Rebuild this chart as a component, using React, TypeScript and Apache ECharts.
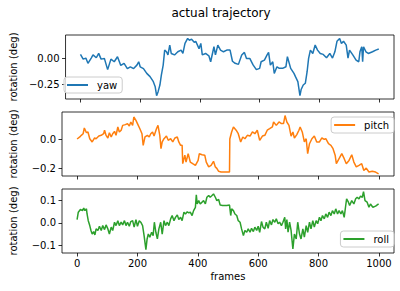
import React, { useEffect, useRef } from "react";
import * as echarts from "echarts";

const titleText = "actual trajectory";
const yLabel = "rotation (deg)";
const xLabel = "frames";
const xTicks = [0, 200, 400, 600, 800, 1000];

const yaw: [number, number][] = [
  [0, 0.035], [9, -0.01], [18, 0], [25, -0.05], [36, 0], [42, 0.03], [53, 0.003], [61, 0.045], [69, -0.01], [80, -0.003],
  [91, -0.11], [102, -0.01], [113, -0.035], [124, 0.013], [135, -0.07], [146, -0.05], [157, -0.1], [167, -0.083], [178, -0.1],
  [189, -0.067], [195, -0.035], [200, -0.083], [211, -0.1], [222, -0.146], [233, -0.177], [244, -0.225], [250, -0.27],
  [255, -0.358], [260, -0.32], [266, -0.257], [271, -0.16], [277, -0.067], [282, 0.076], [288, 0.06], [293, 0.03],
  [299, 0.124], [304, 0.044], [315, 0.03], [326, 0.06], [337, 0.076], [343, 0.044], [350, 0.14], [359, 0.187], [365, 0.17],
  [372, 0.18], [381, 0.15], [386, 0.16], [397, 0.09], [403, 0.14], [408, 0.03], [419, 0.044], [430, 0.022], [436, -0.035],
  [447, 0.108], [452, 0.03], [460, 0.124], [469, 0.076], [479, 0.06], [490, 0.076], [501, 0.076], [509, -0.03], [518, -0.05],
  [529, -0.06], [540, 0.03], [549, 0.054], [556, -0.003], [567, -0.003], [578, -0.065], [589, -0.11], [600, -0.098],
  [605, -0.035], [616, -0.019], [625, 0.03], [630, 0.054], [636, -0.067], [644, -0.035], [649, -0.146], [658, -0.083],
  [666, -0.098], [677, -0.098], [688, -0.083], [693, 0.013], [704, -0.098], [715, -0.146], [720, -0.177], [728, -0.225],
  [735, -0.358], [739, -0.3], [746, -0.257], [753, -0.24], [759, -0.13], [764, -0.003], [770, 0.076], [778, 0.044],
  [786, 0.124], [794, 0.076], [803, 0.044], [813, 0.035], [824, 0.003], [835, 0.044], [844, 0], [852, 0.06], [859, 0.16],
  [868, 0.187], [874, 0.14], [881, 0.16], [890, 0.124], [896, 0], [901, 0.076], [912, 0.03], [923, -0.019], [932, -0.035],
  [936, 0.06], [942, 0.108], [945, -0.035], [948, 0.108], [956, 0.06], [964, 0.044], [978, 0.06], [989, 0.076], [999, 0.086],
];

const pitch: [number, number][] = [
  [0, 0], [9, 0.014], [14, 0.025], [20, 0.036], [24, 0.075], [31, 0.043], [36, 0.048], [42, 0.002], [50, -0.02], [58, 0.007],
  [63, 0.002], [72, 0.02], [80, 0.025], [88, 0.036], [91, 0.06], [96, 0.025], [102, 0.007], [107, 0.043], [113, 0.014],
  [118, 0.036], [124, 0.052], [129, 0.025], [135, 0.082], [140, 0.048], [146, 0.06], [151, 0.093], [160, 0.098], [167, 0.105],
  [173, 0.089], [178, 0.116], [184, 0.093], [188, 0.15], [195, 0.127], [200, 0.105], [208, 0.07], [215, 0.036], [219, -0.043],
  [225, 0.014], [233, 0.025], [239, 0.014], [244, 0.036], [250, 0.048], [255, 0.02], [263, 0.07], [268, 0.093], [274, 0.025],
  [278, -0.066], [282, -0.02], [288, 0.002], [296, 0.02], [302, -0.009], [310, 0.002], [317, -0.02], [324, 0.007],
  [332, 0.014], [337, -0.02], [343, -0.043], [348, -0.043], [350, -0.168], [357, -0.11], [361, -0.157], [368, -0.1],
  [375, -0.157], [383, -0.168], [392, -0.18], [401, -0.146], [405, -0.1], [414, -0.107], [423, -0.11], [428, -0.157],
  [436, -0.19], [444, -0.18], [452, -0.152], [458, -0.19], [463, -0.2], [469, -0.22], [477, -0.225], [490, -0.225],
  [501, -0.225], [505, -0.225], [506, 0.0], [512, 0.048], [518, 0.082], [527, 0.06], [534, 0.036], [542, -0.02],
  [549, 0.014], [556, 0.002], [564, 0.025], [573, 0.02], [581, 0.048], [589, 0.036], [597, 0.06], [605, -0.009], [614, 0.02],
  [622, 0.025], [630, 0.06], [638, 0.07], [647, 0.082], [651, 0.116], [660, 0.093], [669, 0.116], [677, 0.105], [684, 0.105],
  [689, 0.16], [695, 0.116], [702, 0.093], [709, 0.02], [715, 0.048], [720, 0.007], [728, 0.03], [735, 0.06], [739, 0.082],
  [746, 0.048], [753, -0.02], [759, 0.002], [764, -0.1], [770, -0.032], [778, 0.002], [786, 0.02], [794, -0.02],
  [803, -0.02], [811, 0.007], [819, -0.002], [824, 0.002], [833, -0.032], [841, -0.043], [848, -0.066], [855, -0.11],
  [859, -0.168], [868, -0.134], [877, -0.1], [885, -0.134], [892, -0.168], [901, -0.146], [910, -0.107], [917, -0.157],
  [925, -0.19], [934, -0.18], [943, -0.168], [950, -0.214], [958, -0.198], [967, -0.225], [978, -0.22], [989, -0.225],
  [999, -0.237],
];

const roll: [number, number][] = [
  [0, 0.015], [4, 0.048], [11, 0.06], [18, 0.055], [22, 0.066], [26, 0.055], [31, 0.063], [33, 0.04], [37, 0.01],
  [42, -0.012], [46, -0.034], [50, -0.05], [55, -0.039], [59, -0.054], [63, -0.027], [69, -0.034], [74, -0.015],
  [80, -0.034], [85, -0.012], [91, -0.03], [96, -0.009], [102, -0.027], [107, -0.05], [113, -0.019], [118, -0.034],
  [124, 0.003], [129, -0.012], [135, 0.01], [140, -0.012], [146, 0.003], [151, -0.009], [157, 0.01], [162, -0.012],
  [167, 0.003], [173, -0.015], [178, 0.006], [184, 0.01], [189, -0.019], [195, 0.015], [200, -0.015], [206, 0.01],
  [211, 0.003], [217, -0.012], [222, -0.057], [228, -0.12], [232, -0.072], [236, -0.05], [241, -0.064], [247, -0.042],
  [252, -0.057], [256, 0.003], [261, -0.042], [266, -0.072], [271, -0.027], [277, 0.003], [282, -0.05], [288, 0.01],
  [293, -0.012], [299, 0.003], [304, -0.012], [310, 0.018], [315, 0.033], [321, 0.01], [326, 0.025], [332, 0.036],
  [337, 0.015], [343, 0.025], [348, 0.01], [354, 0.048], [359, 0.04], [365, 0.05], [370, 0.045], [375, 0.048], [381, 0.033],
  [386, 0.055], [392, 0.07], [395, 0.126], [398, 0.085], [403, 0.1], [408, 0.085], [414, 0.093], [419, 0.1], [425, 0.085],
  [430, 0.115], [436, 0.123], [441, 0.115], [447, 0.123], [452, 0.13], [458, 0.115], [463, 0.1], [469, 0.105], [474, 0.08],
  [482, 0.078], [490, 0.078], [496, 0.078], [505, 0.08], [509, 0.033], [512, 0.063], [518, 0.055], [523, 0.04], [529, 0.033],
  [534, 0.01], [540, 0.003], [545, -0.027], [551, -0.057], [556, -0.034], [562, -0.042], [567, -0.027], [573, -0.042],
  [578, -0.024], [584, -0.039], [589, -0.019], [595, -0.034], [600, -0.015], [605, -0.042], [611, 0.006], [616, -0.019],
  [622, -0.027], [627, 0.003], [633, -0.024], [638, 0.01], [644, -0.009], [649, 0.015], [655, 0.003], [660, 0.018],
  [666, -0.004], [671, 0.003], [677, -0.012], [682, 0.003], [688, 0.025], [691, -0.027], [695, 0.015], [699, -0.042],
  [704, 0.003], [709, -0.034], [715, -0.117], [720, -0.05], [726, -0.072], [731, 0.003], [737, -0.05], [742, -0.072],
  [748, -0.027], [753, -0.064], [759, -0.012], [764, -0.042], [770, 0.003], [775, -0.027], [781, 0.01], [786, -0.019],
  [792, 0.01], [797, -0.004], [803, 0.025], [808, 0.01], [813, 0.033], [819, 0.018], [824, 0.04], [830, 0.025], [835, 0.048],
  [841, 0.033], [846, 0.055], [852, 0.04], [857, 0.063], [863, 0.04], [868, 0.055], [874, 0.04], [879, 0.055], [885, 0.025],
  [890, 0.078], [893, 0.108], [899, 0.093], [903, 0.078], [910, 0.1], [917, 0.085], [923, 0.108], [928, 0.115], [934, 0.108],
  [939, 0.12], [945, 0.115], [949, 0.14], [954, 0.1], [961, 0.093], [967, 0.07], [972, 0.085], [980, 0.07], [989, 0.075],
  [999, 0.085],
];

const seriesNames = ["yaw", "pitch", "roll"];
const seriesColors = ["#1f77b4", "#ff7f0e", "#2ca02c"];
const yRanges: [number, number][] = [[-0.39, 0.22], [-0.252, 0.184], [-0.135, 0.152]];
const yTicks = [[-0.25, 0], [-0.2, 0], [-0.1, 0, 0.1]];
const yDecimals = [2, 1, 1];

const FONT = "DejaVu Sans";

export default function App() {
  const ref = useRef<HTMLDivElement>(null);
  useEffect(() => {
    if (!ref.current) return;
    const chart = echarts.init(ref.current, null, { renderer: "svg" });
    const tops = [35, 112, 189];
    const datas = [yaw, pitch, roll];
    const fmt = (d: number) => (v: number) => {
      const s = Math.abs(v).toFixed(d);
      return v < -1e-9 ? "\u2212" + s : s;
    };
    const legendPos = [
      { left: 64, top: 77 },
      { right: 6, top: 117 },
      { right: 6, top: 231 },
    ];
    const option: any = {
      animation: false,
      textStyle: { fontFamily: FONT },
      graphic: [
        {
          type: "text",
          x: 221,
          y: 13,
          style: {
            text: titleText,
            font: `12px "${FONT}"`,
            fill: "#000",
            textAlign: "center",
            textVerticalAlign: "middle",
          },
        },
      ],
      grid: tops.map((t) => ({
        left: 60,
        right: 6,
        top: t,
        height: 64,
        show: true,
        borderColor: "#000",
        borderWidth: 0.8,
        backgroundColor: "transparent",
      })),
      legend: seriesNames.map((n, i) => ({
        data: [n],
        ...legendPos[i],
        orient: "horizontal",
        icon: "rect",
        itemWidth: 21,
        itemHeight: 2,
        padding: [3, 5, 3, 3],
        borderColor: "#cccccc",
        borderWidth: 1,
        borderRadius: 3,
        backgroundColor: "rgba(255,255,255,0.8)",
        textStyle: { fontSize: 10, color: "#000", fontFamily: FONT, padding: [0, 0, 0, 4] },
        selectedMode: false,
        z: 10,
      })),
      xAxis: tops.map((_, i) => ({
        type: "value",
        gridIndex: i,
        min: -50,
        max: 1050,
        splitLine: { show: false },
        axisLine: { show: false, onZero: false },
        axisTick: { show: true, customValues: xTicks, length: 3.5, lineStyle: { color: "#000", width: 0.8 } },
        axisLabel: {
          show: i === 2,
          customValues: xTicks,
          formatter: (v: number) => String(v),
          fontSize: 10,
          color: "#000",
          fontFamily: FONT,
          margin: 5,
        },
        name: i === 2 ? xLabel : "",
        nameLocation: "middle",
        nameGap: 18,
        nameTextStyle: { fontSize: 10, color: "#000", fontFamily: FONT },
      })),
      yAxis: tops.map((_, i) => ({
        type: "value",
        gridIndex: i,
        min: yRanges[i][0],
        max: yRanges[i][1],
        splitLine: { show: false },
        axisLine: { show: false, onZero: false },
        axisTick: { show: true, customValues: yTicks[i], length: 3.5, lineStyle: { color: "#000", width: 0.8 } },
        axisLabel: {
          customValues: yTicks[i],
          formatter: fmt(yDecimals[i]),
          fontSize: 10,
          color: "#000",
          fontFamily: FONT,
          margin: 6,
        },
        name: yLabel,
        nameLocation: "middle",
        nameGap: 44,
        nameTextStyle: { fontSize: 10, color: "#000", fontFamily: FONT },
      })),
      series: seriesNames.map((n, i) => ({
        name: n,
        type: "line",
        xAxisIndex: i,
        yAxisIndex: i,
        data: datas[i],
        symbol: "none",
        showSymbol: false,
        color: seriesColors[i],
        lineStyle: { width: 1.5, color: seriesColors[i] },
      })),
    };
    chart.setOption(option);
    return () => chart.dispose();
  }, []);
  return (
    <div
      ref={ref}
      style={{ position: "absolute", left: 0, top: 0, width: 400, height: 291 }}
    />
  );
}
